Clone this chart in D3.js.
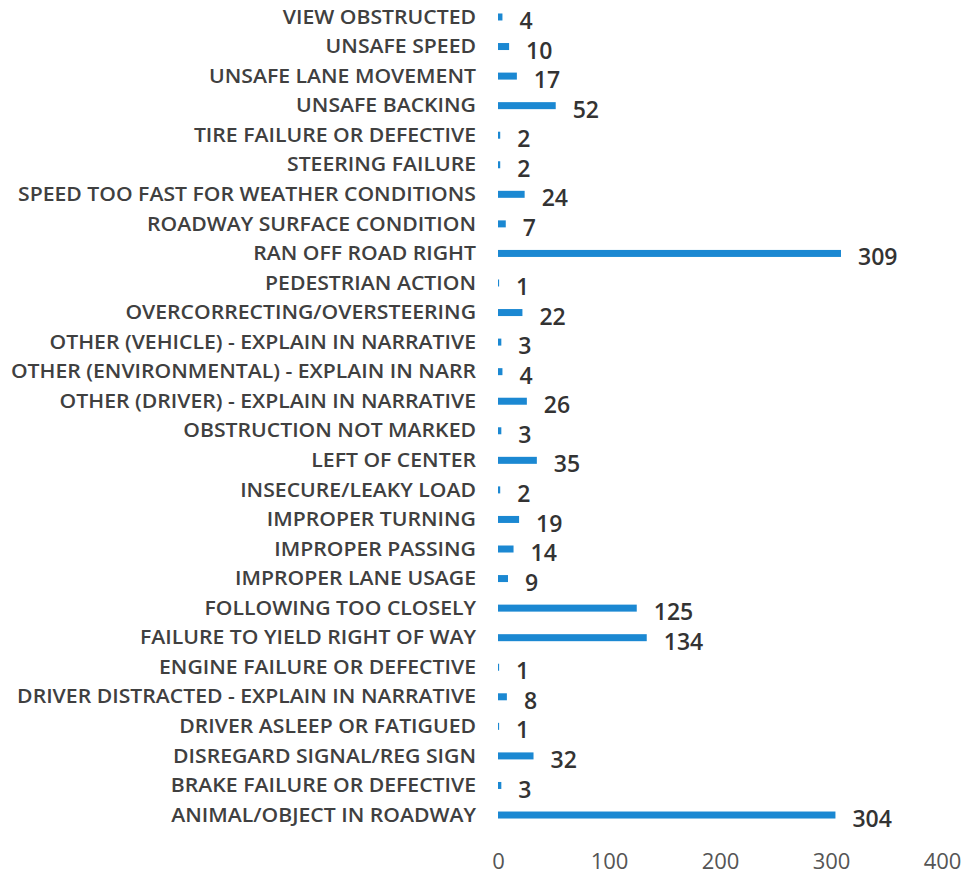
<!DOCTYPE html>
<html>
<head>
<meta charset="utf-8">
<script src="https://cdn.jsdelivr.net/npm/d3@7"></script>
<style>
  body { margin: 0; background: #fff; }
  svg { display: block; }
</style>
</head>
<body>
<svg class="chart"></svg>
<script>
// chart size
var width = 965;
var height = 879;

// data, top to bottom as in the picture
var factors = [
    "VIEW OBSTRUCTED", "UNSAFE SPEED", "UNSAFE LANE MOVEMENT", "UNSAFE BACKING",
    "TIRE FAILURE OR DEFECTIVE", "STEERING FAILURE", "SPEED TOO FAST FOR WEATHER CONDITIONS",
    "ROADWAY SURFACE CONDITION", "RAN OFF ROAD RIGHT", "PEDESTRIAN ACTION",
    "OVERCORRECTING/OVERSTEERING", "OTHER (VEHICLE) - EXPLAIN IN NARRATIVE",
    "OTHER (ENVIRONMENTAL) - EXPLAIN IN NARR", "OTHER (DRIVER) - EXPLAIN IN NARRATIVE",
    "OBSTRUCTION NOT MARKED", "LEFT OF CENTER", "INSECURE/LEAKY LOAD", "IMPROPER TURNING",
    "IMPROPER PASSING", "IMPROPER LANE USAGE", "FOLLOWING TOO CLOSELY",
    "FAILURE TO YIELD RIGHT OF WAY", "ENGINE FAILURE OR DEFECTIVE",
    "DRIVER DISTRACTED - EXPLAIN IN NARRATIVE", "DRIVER ASLEEP OR FATIGUED",
    "DISREGARD SIGNAL/REG SIGN", "BRAKE FAILURE OR DEFECTIVE", "ANIMAL/OBJECT IN ROADWAY"
];
var counts = [4, 10, 17, 52, 2, 2, 24, 7, 309, 1, 22, 3, 4, 26, 3, 35, 2, 19, 14, 9,
    125, 134, 1, 8, 1, 32, 3, 304];
var xTicks = [0, 100, 200, 300, 400];

var dataset = factors.map(function(f, i) {
    return {factor: f, count: counts[i]};
});

var svg = d3.select(".chart")
    .attr("width", width)
    .attr("height", height);

var x = d3.scaleLinear()
    .domain([0, 400])
    .range([498, 942]);

var y = d3.scaleBand()
    .domain(factors)
    .range([2.2, 829.8])
    .padding(0);

var barH = 7;

// bars
svg.selectAll("rect.bar")
    .data(dataset)
    .enter().append("rect")
    .attr("class", "bar")
    .attr("x", x(0))
    .attr("y", function(d) { return y(d.factor) + y.bandwidth() / 2 - barH / 2; })
    .attr("width", function(d) { return x(d.count) - x(0); })
    .attr("height", barH)
    .style("fill", "#1b88d2");

// value labels
svg.selectAll("text.value")
    .data(dataset)
    .enter().append("text")
    .attr("class", "value")
    .attr("x", function(d) { return x(d.count) + 17; })
    .attr("y", function(d) { return y(d.factor) + y.bandwidth() / 2 + 4; })
    .attr("dy", "0.35em")
    .style("font-family", "'Open Sans', sans-serif")
    .style("font-weight", 600)
    .style("font-size", "23px")
    .style("fill", "#333")
    .text(function(d) { return d.count; });

// category labels
var labels = svg.append("g")
    .attr("class", "labels")
    .selectAll("text")
    .data(dataset)
    .enter().append("text")
    .attr("x", 476)
    .attr("y", function(d) { return y(d.factor) + y.bandwidth() / 2; })
    .attr("dy", "0.35em")
    .style("text-anchor", "end")
    .style("font-family", "'Open Sans', sans-serif")
    .style("font-weight", 600)
    .style("font-size", "19px")
    .style("fill", "#404040")
    .text(function(d) { return d.factor; });

// squeeze the labels so they are as narrow as the original font
var ref = labels.filter(function(d) { return d.factor === "SPEED TOO FAST FOR WEATHER CONDITIONS"; });
var ratio = 458 / ref.node().getComputedTextLength();
labels.each(function() {
    var w = this.getComputedTextLength();
    d3.select(this)
        .attr("textLength", w * ratio)
        .attr("lengthAdjust", "spacingAndGlyphs");
});

// x axis, labels only
var xAxis = d3.axisBottom(x)
    .tickValues(xTicks)
    .tickSize(0)
    .tickPadding(0);

var axisG = svg.append("g")
    .attr("class", "axis")
    .attr("transform", "translate(0,853)")
    .call(xAxis);

axisG.select(".domain").remove();
axisG.selectAll("text")
    .style("font-family", "'Open Sans', sans-serif")
    .style("font-size", "22px")
    .style("fill", "#555");
</script>
</body>
</html>
